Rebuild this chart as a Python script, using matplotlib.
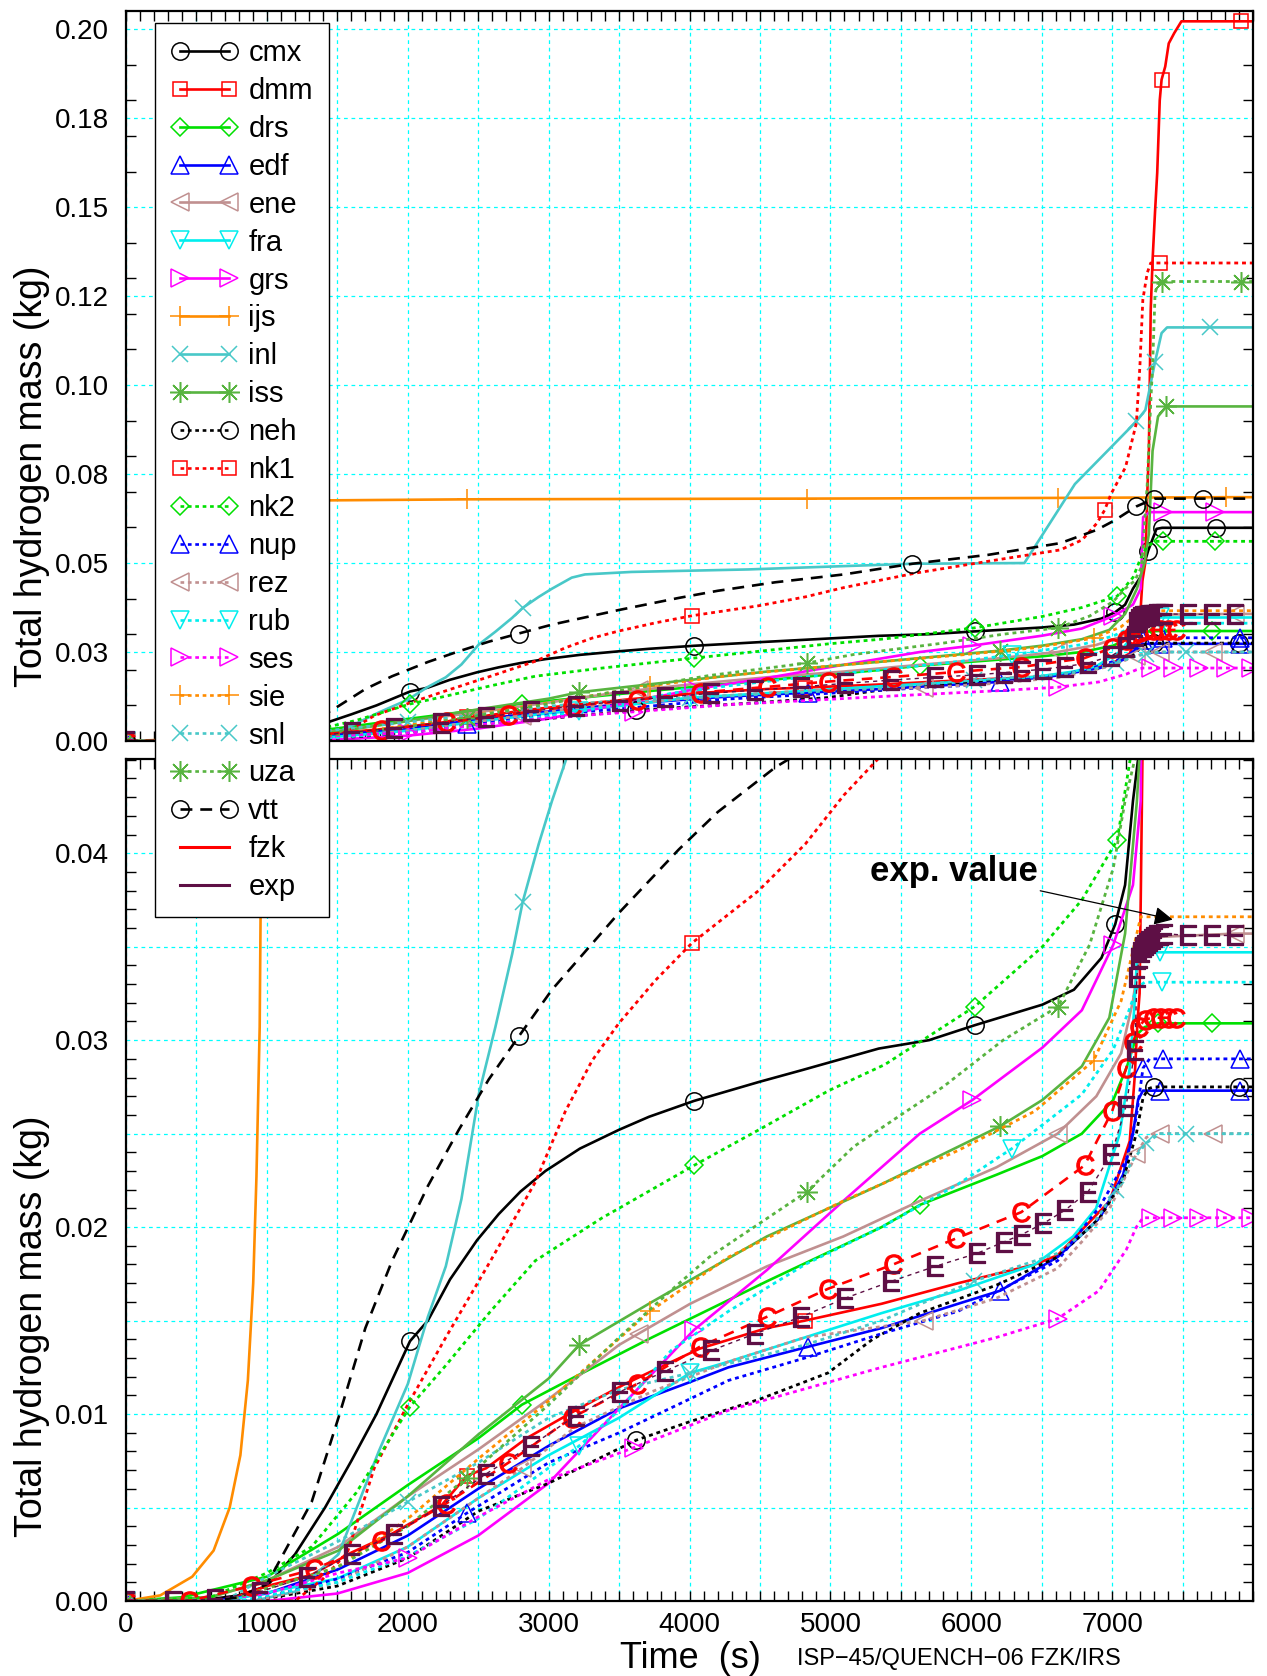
import numpy as np
import matplotlib.pyplot as plt
from matplotlib.lines import Line2D
from matplotlib.ticker import FixedLocator, FixedFormatter, MultipleLocator

plt.rcParams['font.family'] = ['Liberation Sans', 'DejaVu Sans']
plt.rcParams['mathtext.default'] = 'regular'

# ---- hydrogen mass (kg) vs time (s) for each participant ----
cmx_t = [0, 500, 800, 1000, 1200, 1413, 1600, 1778, 2016, 2143, 2300, 2492, 2646, 2800, 2977, 3222, 3498, 3712,
         4032, 4491, 4800, 5343, 5700, 6025, 6505, 6729, 6924, 7022, 7092, 7148, 7200, 7256, 7315, 7355, 7734, 8000]
cmx_m = [0, 0, 0.0003, 0.0008, 0.0025, 0.005, 0.0075, 0.01, 0.0139, 0.015, 0.0172, 0.0193, 0.0207, 0.0219, 0.023,
         0.0242, 0.0252, 0.0259, 0.02675, 0.02776, 0.0284, 0.02955, 0.0300, 0.0308, 0.0319, 0.0327, 0.0344, 0.0362,
         0.0383, 0.0428, 0.046, 0.0535, 0.0596, 0.0599, 0.0599, 0.0599]
cmx_mark = [0, 2016, 4032, 6025, 7022, 7256, 7355, 7734]

dmm_t = [0, 700, 1000, 1318, 1603, 1889, 2238, 2419, 2556, 2842, 3191, 3540, 3734, 4073, 4549, 4820, 5364, 5907,
         6451, 6614, 6983, 7125, 7160, 7180, 7195, 7205, 7215, 7235, 7250, 7261, 7274, 7287, 7305, 7320, 7330,
         7338, 7351, 7377, 7402, 7441, 7492, 7915, 8000]
dmm_m = [0, 0, 0.0008, 0.0014, 0.0026, 0.0036, 0.0051, 0.0067, 0.0071, 0.0087, 0.0102, 0.0116, 0.0123, 0.0135,
         0.0146, 0.015, 0.0159, 0.017, 0.018, 0.0185, 0.0214, 0.0246, 0.028, 0.031, 0.0325, 0.0387, 0.045, 0.05,
         0.07, 0.0818, 0.1212, 0.135, 0.149, 0.1596, 0.1708, 0.18, 0.1858, 0.1895, 0.196, 0.1989, 0.2022, 0.2022,
         0.2022]
dmm_mark = [0, 2419, 4820, 7351, 7915]

drs_t = [0, 400, 1000, 1508, 2000, 2500, 2810, 3190, 3734, 4549, 5364, 5639, 6179, 6505, 6785, 7008, 7106, 7176,
         7231, 7325, 7707, 8000]
drs_m = [0, 0.0002, 0.0013, 0.0036, 0.0062, 0.0087, 0.0105, 0.012, 0.0141, 0.0171, 0.020, 0.0212, 0.0228, 0.0238,
         0.025, 0.0268, 0.0286, 0.0303, 0.0307, 0.0309, 0.0309, 0.0309]
drs_mark = [0, 2810, 5639, 7325, 7707]

edf_t = [0, 600, 1000, 1508, 2000, 2500, 3000, 3500, 4000, 4277, 4842, 5364, 5907, 6206, 6613, 6913, 7078, 7148,
         7184, 7219, 7343, 7909, 8000]
edf_m = [0, 0, 0.0004, 0.0017, 0.0035, 0.006, 0.0083, 0.0103, 0.0117, 0.0125, 0.0136, 0.0146, 0.0159, 0.0166,
         0.0184, 0.0205, 0.0228, 0.025, 0.0268, 0.0273, 0.0273, 0.0273, 0.0273]
edf_mark = [0, 4842, 6206, 7343, 7909]

ene_t = [0, 600, 1000, 1508, 2000, 2500, 3000, 3500, 3638, 4005, 4549, 5092, 5635, 6179, 6613, 6888, 7064, 7148,
         7190, 7260, 7874, 8000]
ene_m = [0, 0.0002, 0.0011, 0.0029, 0.0056, 0.0081, 0.0108, 0.0137, 0.0143, 0.0159, 0.0179, 0.0195, 0.0214,
         0.0232, 0.025, 0.027, 0.0293, 0.0321, 0.0343, 0.0355, 0.0357, 0.0357]
ene_mark = [0, 3638, 6613, 7874]

fra_t = [0, 700, 1500, 2000, 2500, 3000, 3500, 4005, 4277, 4820, 5364, 5907, 6451, 6723, 6886, 7054, 7125, 7160,
         7176, 7218, 7343, 8000]
fra_m = [0, 0, 0.0012, 0.0029, 0.0055, 0.0078, 0.0098, 0.0122, 0.0128, 0.0141, 0.0154, 0.0166, 0.018, 0.0195,
         0.021, 0.025, 0.0285, 0.032, 0.0344, 0.0347, 0.0347, 0.0347]
fra_mark = [0, 4005, 7343]

grs_t = [0, 1000, 1500, 2000, 2500, 3000, 3500, 4032, 4549, 5092, 5635, 6008, 6505, 6785, 7008, 7148, 7203, 7220,
         7266, 7362, 7730, 8000]
grs_m = [0, 0, 0.0004, 0.0015, 0.0035, 0.0063, 0.0103, 0.0145, 0.0177, 0.0214, 0.025, 0.0268, 0.0296, 0.0316,
         0.0351, 0.0383, 0.0428, 0.0629, 0.0643, 0.0643, 0.0643, 0.0643]
grs_mark = [0, 4032, 6008, 7008, 7362, 7730]

ijs_t = [0, 243, 470, 622, 736, 812, 865, 903, 926, 949, 964, 1000, 1100, 1400, 2421, 4835, 6618, 7810, 8000]
ijs_m = [0, 0.0003, 0.0013, 0.0027, 0.005, 0.0078, 0.0118, 0.017, 0.0227, 0.0307, 0.045, 0.058, 0.065, 0.0676,
         0.0679, 0.0681, 0.0683, 0.0685, 0.0685]
ijs_mark = [0, 2421, 4835, 6618, 7810]

inl_t = [0, 900, 1200, 1508, 1794, 2000, 2143, 2270, 2381, 2504, 2622, 2741, 2816, 2930, 3024, 3164, 3258, 3588,
         4415, 5582, 6377, 6736, 6967, 7172, 7236, 7274, 7305, 7351, 7390, 7697, 8000]
inl_m = [0, 0, 0.0005, 0.0025, 0.008, 0.0116, 0.0152, 0.0179, 0.0215, 0.0271, 0.0307, 0.0346, 0.0374, 0.0405,
         0.0428, 0.0459, 0.0468, 0.0475, 0.0482, 0.0498, 0.050, 0.0722, 0.0815, 0.0898, 0.093, 0.1005, 0.1066,
         0.1146, 0.1162, 0.1162, 0.1162]
inl_mark = [0, 2816, 7172, 7305, 7697]

iss_t = [0, 600, 1000, 1508, 2000, 2500, 3000, 3217, 3734, 4549, 5364, 6206, 6505, 6785, 6980, 7092, 7176, 7230,
         7261, 7287, 7326, 7385, 8000]
iss_m = [0, 0.0002, 0.0011, 0.0027, 0.0056, 0.0089, 0.0119, 0.0137, 0.016, 0.0195, 0.0223, 0.0254, 0.0268, 0.0286,
         0.0312, 0.0357, 0.0428, 0.050, 0.0583, 0.0815, 0.0912, 0.094, 0.094]
iss_mark = [0, 3217, 6206, 7385]

neh_t = [0, 900, 1500, 2000, 2500, 3000, 3620, 4005, 4500, 4983, 5300, 5635, 6180, 6613, 6913, 7078, 7172, 7219,
         7255, 7295, 7898, 8000]
neh_m = [0, 0, 0.0008, 0.0023, 0.0048, 0.0063, 0.0086, 0.0096, 0.0108, 0.0122, 0.014, 0.0154, 0.0169, 0.0184,
         0.0205, 0.0225, 0.025, 0.0269, 0.0274, 0.0275, 0.0275, 0.0275]
neh_mark = [0, 3620, 7295, 7898]

nk1_t = [0, 1200, 1400, 1572, 1762, 2000, 2270, 2588, 2905, 3119, 3308, 3498, 3758, 4018, 4491, 4823, 5095, 5608,
         6120, 6633, 6787, 6890, 6946, 6992, 7095, 7172, 7197, 7218, 7249, 7274, 7338, 8000]
nk1_m = [0, 0, 0.0012, 0.0026, 0.0071, 0.0105, 0.0141, 0.0182, 0.0224, 0.0262, 0.0289, 0.0309, 0.0332, 0.0352,
         0.038, 0.0405, 0.0431, 0.0472, 0.0505, 0.0537, 0.0565, 0.0611, 0.0648, 0.0694, 0.0769, 0.0893, 0.1052,
         0.124, 0.1315, 0.1343, 0.1343, 0.1343]
nk1_mark = [0, 4018, 6946, 7338]

nk2_t = [0, 600, 1000, 1318, 1635, 2016, 2270, 2588, 2905, 3381, 3498, 4032, 4491, 4988, 5388, 6025, 6505, 6785,
         7036, 7149, 7196, 7243, 7302, 7362, 7730, 8000]
nk2_m = [0, 0.0002, 0.0015, 0.0029, 0.0058, 0.0104, 0.0126, 0.0155, 0.0182, 0.0205, 0.021, 0.0233, 0.0252, 0.0273,
         0.0287, 0.0318, 0.035, 0.0375, 0.0407, 0.046, 0.0507, 0.0544, 0.0561, 0.0561, 0.0561, 0.0561]
nk2_mark = [0, 2016, 4032, 6025, 7036, 7362, 7730]

nup_t = [0, 900, 1508, 2000, 2419, 3000, 3500, 4000, 4277, 4820, 5364, 5907, 6613, 6913, 7101, 7172, 7219, 7266,
         7361, 7908, 8000]
nup_m = [0, 0, 0.0012, 0.0026, 0.0047, 0.0074, 0.009, 0.0108, 0.0118, 0.013, 0.0143, 0.0155, 0.0182, 0.0211,
         0.0236, 0.0259, 0.0285, 0.029, 0.029, 0.029, 0.029]
nup_mark = [0, 2419, 7219, 7361, 7908]

rez_t = [0, 900, 1500, 2000, 2810, 3190, 3734, 4277, 4820, 5663, 6179, 6613, 6795, 6983, 7101, 7172, 7243, 7314,
         7337, 7714, 8000]
rez_m = [0, 0, 0.001, 0.0029, 0.0071, 0.0093, 0.0112, 0.0128, 0.0141, 0.015, 0.0162, 0.0178, 0.0193, 0.021, 0.0228,
         0.0239, 0.0248, 0.025, 0.025, 0.025, 0.025]
rez_mark = [0, 2810, 5663, 7172, 7337, 7714]

rub_t = [0, 800, 1500, 2000, 2500, 3217, 3500, 3870, 4277, 4820, 5364, 5907, 6288, 6785, 7008, 7120, 7176, 7231,
         7357, 8000]
rub_m = [0, 0, 0.001, 0.0024, 0.0044, 0.0083, 0.0102, 0.0134, 0.0155, 0.018, 0.02, 0.0223, 0.0242, 0.0271, 0.0295,
         0.0316, 0.0328, 0.0331, 0.0331, 0.0331]
rub_mark = [0, 3217, 6288, 7357]

ses_t = [0, 600, 1000, 1508, 2000, 2500, 3000, 3603, 4277, 5364, 6179, 6613, 6907, 7101, 7172, 7219, 7278, 7431,
         7620, 7808, 7985, 8000]
ses_m = [0, 0, 0.0004, 0.0015, 0.0023, 0.0045, 0.0065, 0.0082, 0.0102, 0.0125, 0.0141, 0.0151, 0.0166, 0.0188, 0.02,
         0.0205, 0.0205, 0.0205, 0.0205, 0.0205, 0.0205, 0.0205]
ses_mark = [0, 2000, 3603, 6613, 7278, 7431, 7620, 7808, 7985]

sie_t = [0, 700, 1500, 2000, 2500, 3000, 3720, 4277, 5092, 5907, 6451, 6868, 7064, 7148, 7203, 8000]
sie_m = [0, 0, 0.0018, 0.0044, 0.0076, 0.0107, 0.0155, 0.0184, 0.0214, 0.0241, 0.0262, 0.0289, 0.0321, 0.0348,
         0.0366, 0.0366]
sie_mark = [0, 3720, 6868]

snl_t = [0, 700, 1000, 1508, 2000, 2500, 3000, 3500, 4005, 4820, 5364, 6016, 6613, 6850, 7030, 7148, 7243, 7337,
         7526, 8000]
snl_m = [0, 0, 0.0013, 0.0032, 0.0053, 0.0074, 0.0098, 0.0113, 0.0122, 0.0137, 0.015, 0.0171, 0.0186, 0.02, 0.022,
         0.0236, 0.0245, 0.025, 0.025, 0.025]
snl_mark = [0, 2000, 4005, 6016, 7030, 7243, 7526]

uza_t = [0, 700, 1500, 2000, 2419, 3000, 3500, 3897, 4141, 4834, 5165, 5500, 5800, 6226, 6617, 6840, 7008, 7092,
         7160, 7210, 7249, 7274, 7287, 7305, 7326, 7351, 7915, 8000]
uza_m = [0, 0, 0.0018, 0.004, 0.0066, 0.0105, 0.0141, 0.0168, 0.0184, 0.0219, 0.0243, 0.026, 0.0275, 0.03, 0.0318,
         0.0351, 0.0392, 0.0428, 0.045, 0.049, 0.072, 0.095, 0.1052, 0.1258, 0.1287, 0.1291, 0.1291, 0.1291]
uza_mark = [0, 2419, 4834, 6617, 7351, 7915]

vtt_t = [0, 600, 800, 1000, 1159, 1318, 1508, 1699, 1889, 2016, 2143, 2362, 2575, 2788, 3024, 3498, 3924, 4200,
         4610, 5095, 5582, 6120, 6633, 6890, 7018, 7172, 7300, 7646, 8000]
vtt_m = [0, 0, 0.0002, 0.0009, 0.0031, 0.0053, 0.0098, 0.0146, 0.0182, 0.0202, 0.0222, 0.0252, 0.0279, 0.0302,
         0.0327, 0.0368, 0.0402, 0.0422, 0.0446, 0.0468, 0.0498, 0.0523, 0.0556, 0.0593, 0.062, 0.0659, 0.0681,
         0.0681, 0.0681]
vtt_mark = [0, 2788, 5582, 7172, 7300, 7646]

fzk_t = [0, 445, 889, 1333, 1810, 2270, 2715, 3163, 3625, 4073, 4549, 4983, 5445, 5894, 6355, 6804, 7000, 7100,
         7148, 7190, 7231, 7287, 7343, 7399, 7450]
fzk_m = [0, 0, 0.0008, 0.0017, 0.0032, 0.0052, 0.0074, 0.0098, 0.0116, 0.0136, 0.0152, 0.0167, 0.018, 0.0194,
         0.0208, 0.0233, 0.0262, 0.0285, 0.0299, 0.0307, 0.0311, 0.0312, 0.0312, 0.0312, 0.0312]

exp_t = [0, 333, 635, 952, 1286, 1603, 1905, 2238, 2556, 2873, 3191, 3508, 3829, 4155, 4467, 4793, 5106, 5432,
         5744, 6043, 6229, 6358, 6512, 6665, 6830, 6995, 7100, 7162, 7176, 7190, 7204, 7218, 7232, 7245, 7259,
         7280, 7300, 7315, 7340, 7371, 7539, 7706, 7874]
exp_m = [0, 0, 0.0001, 0.0005, 0.0013, 0.0025, 0.0036, 0.0051, 0.0068, 0.0083, 0.0099, 0.0112, 0.0123, 0.0134,
         0.0143, 0.0152, 0.0162, 0.0171, 0.0179, 0.0186, 0.0192, 0.0196, 0.0202, 0.0209, 0.0219, 0.0239, 0.0265,
         0.0295, 0.0334, 0.0344, 0.0347, 0.035, 0.0351, 0.0352, 0.0353, 0.0354, 0.0355, 0.0356, 0.0356, 0.0357,
         0.0356, 0.0356, 0.0356]

# ---- axis ticks ----
top_yticks = [0.0, 0.025, 0.05, 0.075, 0.10, 0.125, 0.15, 0.175, 0.20]
top_ylabels = ['0.00', '0.03', '0.05', '0.08', '0.10', '0.12', '0.15', '0.18', '0.20']
bot_yticks = [0.0, 0.005, 0.01, 0.015, 0.02, 0.025, 0.03, 0.035, 0.04]
bot_ylabels = ['0.00', '', '0.01', '', '0.02', '', '0.03', '', '0.04']
xticks = [0, 500, 1000, 1500, 2000, 2500, 3000, 3500, 4000, 4500, 5000, 5500, 6000, 6500, 7000, 7500]
xlabels = ['0', '', '1000', '', '2000', '', '3000', '', '4000', '', '5000', '', '6000', '', '7000', '']

# colours
BLACK = 'black'
RED = '#ff0000'
GREEN = '#00e000'
BLUE = '#0000ff'
ROSY = '#c09090'
CYAN = '#00eeee'
MAGENTA = '#ff00ff'
ORANGE = '#ff8c00'
TURQ = '#48c8c8'
OLIVE = '#58b440'
PURPLE = '#5e0f45'

SOLID = '-'
DOT = (0, (1.4, 1.4))
LDASH = (0, (4.5, 3))

# label, t, m, marker times, colour, line style, marker, marker size
series = [
    ('cmx', cmx_t, cmx_m, cmx_mark, BLACK, SOLID, 'o', 12.5),
    ('dmm', dmm_t, dmm_m, dmm_mark, RED, SOLID, 's', 10),
    ('drs', drs_t, drs_m, drs_mark, GREEN, SOLID, 'D', 9.5),
    ('edf', edf_t, edf_m, edf_mark, BLUE, SOLID, '^', 12.5),
    ('ene', ene_t, ene_m, ene_mark, ROSY, SOLID, '<', 12.5),
    ('fra', fra_t, fra_m, fra_mark, CYAN, SOLID, 'v', 12.5),
    ('grs', grs_t, grs_m, grs_mark, MAGENTA, SOLID, '>', 12.5),
    ('ijs', ijs_t, ijs_m, ijs_mark, ORANGE, SOLID, '+', 15),
    ('inl', inl_t, inl_m, inl_mark, TURQ, SOLID, 'x', 11),
    ('iss', iss_t, iss_m, iss_mark, OLIVE, SOLID, (8, 2, 0), 15),
    ('neh', neh_t, neh_m, neh_mark, BLACK, DOT, 'o', 12.5),
    ('nk1', nk1_t, nk1_m, nk1_mark, RED, DOT, 's', 10),
    ('nk2', nk2_t, nk2_m, nk2_mark, GREEN, DOT, 'D', 9.5),
    ('nup', nup_t, nup_m, nup_mark, BLUE, DOT, '^', 12.5),
    ('rez', rez_t, rez_m, rez_mark, ROSY, DOT, '<', 12.5),
    ('rub', rub_t, rub_m, rub_mark, CYAN, DOT, 'v', 12.5),
    ('ses', ses_t, ses_m, ses_mark, MAGENTA, DOT, '>', 12.5),
    ('sie', sie_t, sie_m, sie_mark, ORANGE, DOT, '+', 15),
    ('snl', snl_t, snl_m, snl_mark, TURQ, DOT, 'x', 11),
    ('uza', uza_t, uza_m, uza_mark, OLIVE, DOT, (8, 2, 0), 15),
    ('vtt', vtt_t, vtt_m, vtt_mark, BLACK, LDASH, 'o', 12.5),
]

W, H = 1267, 1676
fig = plt.figure(figsize=(W / 100, H / 100), dpi=100)
ax_top = fig.add_axes([126 / W, 1 - 741 / H, 1127 / W, 730 / H])
ax_bot = fig.add_axes([126 / W, 1 - 1601 / H, 1127 / W, 842 / H])


def draw(ax):
    for name, t, m, mark, col, ls, mk, ms in series:
        idx = [t.index(v) for v in mark]
        lw = 2.0 if ls == DOT else 1.9
        ax.plot(t, m, color=col, ls=ls, lw=lw, marker=mk, ms=ms, mfc='none', mec=col,
                mew=1.1, markevery=idx)
    ax.plot(fzk_t, fzk_m, color=RED, ls=(0, (4, 3)), lw=1.9, marker='$C$', ms=14,
            mew=0.8, markevery=1)
    ax.plot(exp_t, exp_m, color=PURPLE, ls=(0, (3, 3)), lw=1.0, marker='$E$', ms=15,
            mew=0.9, markevery=1)


def style(ax, yticks, ylabels, ytop, yminor):
    ax.set_xlim(0, 8000)
    ax.set_ylim(0, ytop)
    ax.xaxis.set_major_locator(FixedLocator(xticks))
    ax.xaxis.set_major_formatter(FixedFormatter(xlabels))
    ax.xaxis.set_minor_locator(MultipleLocator(100))
    ax.yaxis.set_major_locator(FixedLocator(yticks))
    ax.yaxis.set_major_formatter(FixedFormatter(ylabels))
    ax.yaxis.set_minor_locator(MultipleLocator(yminor))
    ax.tick_params(which='both', direction='in', top=True, right=True, width=1.0)
    ax.tick_params(axis='x', which='major', length=7, labelsize=20, pad=8)
    ax.tick_params(axis='x', which='minor', length=7)
    ax.tick_params(axis='y', which='major', length=0, labelsize=20, pad=12)
    ax.tick_params(axis='y', which='minor', length=7)
    ax.grid(True, which='major', color='#00ffff', ls=(0, (3, 3)), lw=0.9)
    for s in ax.spines.values():
        s.set_linewidth(1.6)


draw(ax_top)
style(ax_top, top_yticks, top_ylabels, 0.2051, 0.01)
ax_top.tick_params(axis='x', labelbottom=False)

draw(ax_bot)
style(ax_bot, bot_yticks, bot_ylabels, 0.04504, 0.001)

ax_bot.annotate('exp. value', xy=(7430, 0.03645), xytext=(6470, 0.0390),
                fontsize=25, fontweight='bold', ha='right', va='center',
                arrowprops=dict(arrowstyle='-|>', color='black', lw=0.9,
                                mutation_scale=28, shrinkA=0, shrinkB=0))

fig.text(32 / W, 1 - 476 / H, 'Total hydrogen mass (kg)', rotation=90,
         ha='center', va='center', fontsize=27)
fig.text(32 / W, 1 - 1326 / H, 'Total hydrogen mass (kg)', rotation=90,
         ha='center', va='center', fontsize=27)
fig.text(690 / W, 1 - 1658 / H, 'Time  (s)', ha='center', va='center', fontsize=26)
fig.text(797 / W, 1 - 1659 / H, 'ISP\u221245/QUENCH\u221206 FZK/IRS', ha='left',
         va='center', fontsize=17)

# legend drawn across both panels
handles = []
for name, t, m, mark, col, ls, mk, ms in series:
    handles.append(Line2D([], [], color=col, ls=ls, lw=1.9, marker=mk, ms=ms,
                          mfc='none', mec=col, mew=1.1))
handles.append(Line2D([], [], color=RED, lw=2.2))
handles.append(Line2D([], [], color=PURPLE, lw=2.2))
labels = [s[0] for s in series] + ['fzk', 'exp']
fig.legend(handles, labels, loc='upper left', bbox_to_anchor=(155 / W, 1 - 23 / H),
           frameon=True, fancybox=False, edgecolor='black', framealpha=1,
           fontsize=21, numpoints=2, handlelength=2.3, handletextpad=0.35,
           labelspacing=0.34, borderpad=0.55, borderaxespad=0)

fig.savefig('out.png', dpi=100)
